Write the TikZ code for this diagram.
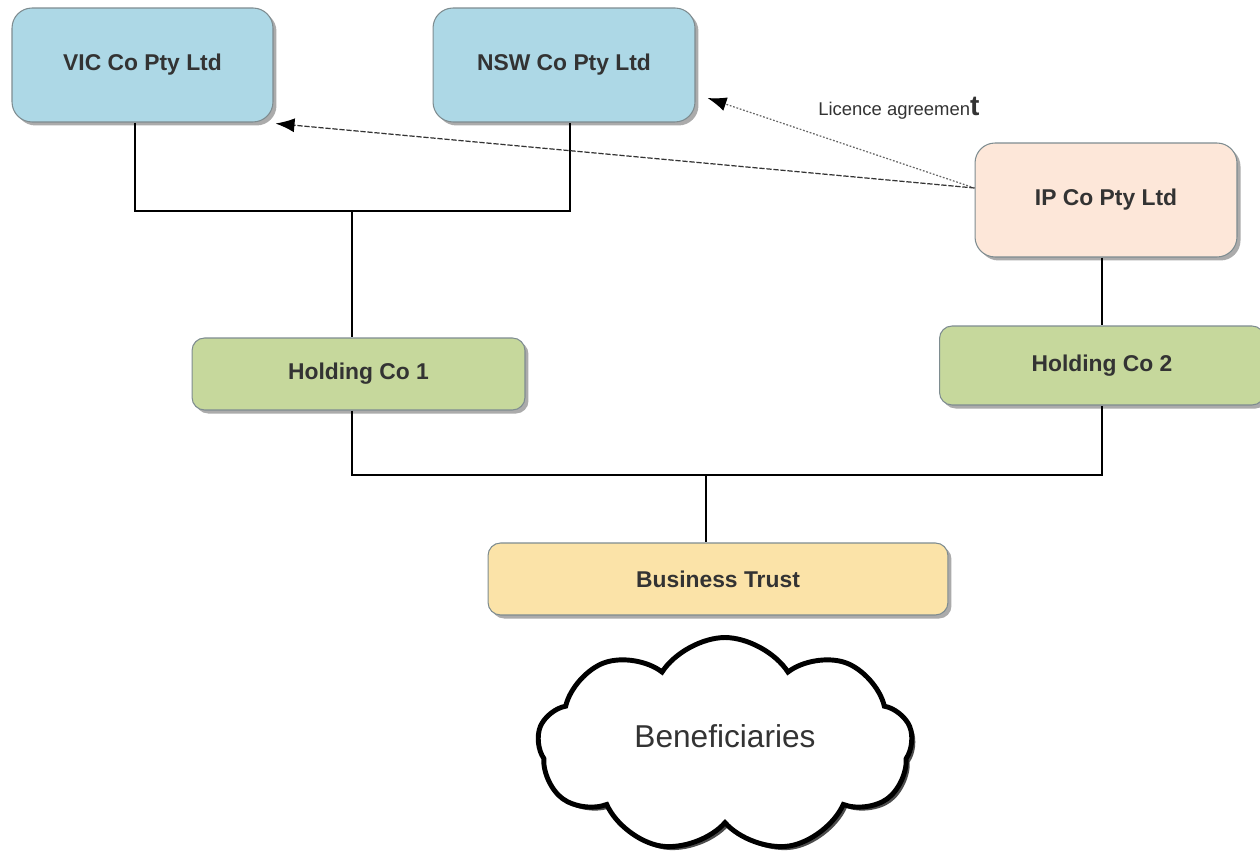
\documentclass[tikz,border=0pt]{standalone}
\usepackage{fontspec}
\setmainfont{Liberation Sans}
\usetikzlibrary{shadows,shapes.symbols,arrows.meta}
\definecolor{boxblue}{HTML}{ADD8E6}
\definecolor{boxpeach}{HTML}{FDE7D9}
\definecolor{boxgreen}{HTML}{C6D89C}
\definecolor{boxyellow}{HTML}{FBE3A8}
\definecolor{edgegray}{HTML}{7E8C90}
\definecolor{txtgray}{HTML}{333333}
\begin{document}
\begin{tikzpicture}[x=0.02cm,y=-0.02cm,
  entity/.style={draw=edgegray, line width=0.6pt, rounded corners=0.4cm,
    drop shadow={shadow xshift=2pt, shadow yshift=-2pt, fill=black!55, opacity=0.6},
    font=\fontsize{13}{15}\selectfont\bfseries, text=txtgray, align=center, inner sep=0pt},
  holding/.style={entity, rounded corners=0.25cm},
  link/.style={line width=1.3pt, black},
  lic/.style={-{Latex[length=3.8mm,width=2.8mm,color=black]}, line width=0.7pt}
]
\useasboundingbox (0,0) rectangle (1260,857);
\node[entity, fill=boxblue, minimum width=5.22cm, minimum height=2.28cm] (vic) at (142.5,65) {VIC Co Pty Ltd};
\node[entity, fill=boxblue, minimum width=5.24cm, minimum height=2.28cm] (nsw) at (564,65) {NSW Co Pty Ltd};
\node[entity, fill=boxpeach, minimum width=5.24cm, minimum height=2.28cm] (ip) at (1106,200) {IP Co Pty Ltd};
\node[holding, fill=boxgreen, minimum width=6.66cm, minimum height=1.44cm] (h1) at (358.5,374) {Holding Co 1};
\node[holding, fill=boxgreen, minimum width=6.5cm, minimum height=1.58cm] (h2) at (1102,365.5) {Holding Co 2};
\node[holding, fill=boxyellow, minimum width=9.2cm, minimum height=1.44cm] (bt) at (718,579) {Business Trust};
\node[cloud, cloud puffs=9, cloud puff arc=115, aspect=1.7, draw=black, line width=2.8pt, fill=white,
  drop shadow={shadow xshift=2pt, shadow yshift=-2pt, fill=black, opacity=0.7},
  minimum width=7.5cm, minimum height=4.3cm, inner sep=0pt,
  font=\fontsize{18}{20}\selectfont, text=txtgray] (ben) at (725,745) {\raisebox{0.35cm}{Beneficiaries}};

\coordinate (j1) at (352,211);
\coordinate (j2) at (706,475);
\draw[link] (vic.south -| 135,0) |- (j1) -| (nsw.south -| 570,0);
\draw[link] (j1) -- (j1 |- h1.north);
\draw[link] (j1 |- h1.south) |- (j2) -| (h2.south);
\draw[link] (j2) -- (j2 |- bt.north);
\draw[link] (ip.south -| h2.south) -- (h2.north);

\draw[lic, dash pattern=on 3pt off 1pt, draw=black!80] ([yshift=0.24cm]ip.west) -- ([shift={(2,1)}]vic.south east);
\draw[lic, dash pattern=on 1pt off 1pt, draw=black!60] ([yshift=0.24cm]ip.west) -- ([shift={(12,33)}]nsw.east);
\node[font=\fontsize{10.5}{12}\selectfont, text=txtgray, anchor=base west, inner sep=0pt] (licl) at (818,116)
  {Licence agreemen{\fontsize{16}{16}\selectfont\bfseries t}};
\end{tikzpicture}
\end{document}
